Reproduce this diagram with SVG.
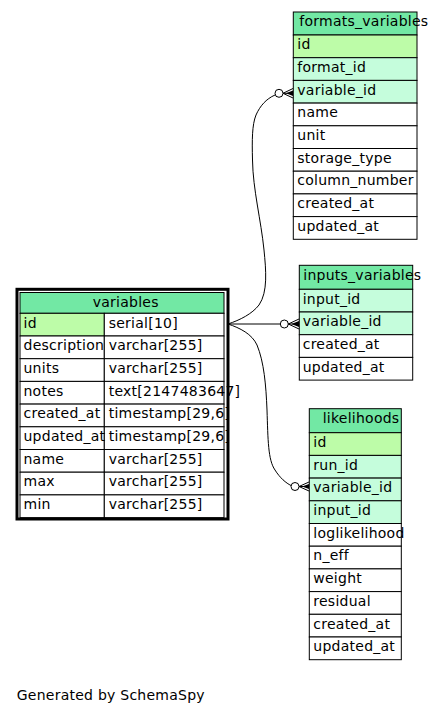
<svg xmlns="http://www.w3.org/2000/svg" width="433" height="717" viewBox="0 0 433 717">
<style>
text{font-family:"DejaVu Sans","Liberation Sans",sans-serif;font-size:14px;letter-spacing:0.25px;fill:#000}
.hd{fill:#72E8A4;stroke:#000;stroke-width:1}
.pk{fill:#BDFCA8;stroke:#000;stroke-width:1}
.fk{fill:#C5FDDC;stroke:#000;stroke-width:1}
.pl{fill:#fff;stroke:#000;stroke-width:1}
.edge{fill:none;stroke:#000;stroke-width:1}
.dot{fill:#fff;stroke:#000;stroke-width:1}
</style>
<rect width="433" height="717" fill="#fff"/>
<g id="connectors">
<path class="edge" d="M228,324 C240,320 252,314 259,305 C268,292 266,270 264,250 C261,220 253,190 252.5,160 C252,140 252,125 256,115 C260,106 266,99 275,95"/>
<circle class="dot" cx="279" cy="93.3" r="4"/>
<path class="edge" d="M293,88.5 L283,93.3 L293,98 M283,93.3 L293,93.3"/>
<path d="M293,90.5 L286,93.3 L293,96 Z" fill="#000"/>
<path class="edge" d="M228,324 L280.3,324"/>
<circle class="dot" cx="284.3" cy="324" r="4"/>
<path class="edge" d="M299,319 L288.3,324 L299,329 M288.3,324 L299,324"/>
<path d="M299,321 L291.3,324 L299,327 Z" fill="#000"/>
<path class="edge" d="M228,324 C240,328 252,334 257,345 C264,362 266,385 267,410 C268,440 268,460 275,470 C280,478 286,483 291,485.5"/>
<circle class="dot" cx="295" cy="486.5" r="4"/>
<path class="edge" d="M309,482 L299,486.5 L309,491 M299,486.5 L309,486.5"/>
<path d="M309,484 L302,486.5 L309,489 Z" fill="#000"/>
</g>
<g id="variables">
<rect x="17" y="289.3" width="211" height="229.7" fill="none" stroke="#000" stroke-width="3"/>
<rect class="hd" x="20" y="292.5" width="204" height="20.8"/>
<rect class="pk" x="20" y="313.3" width="84.3" height="22.7"/>
<rect class="pl" x="104.3" y="313.3" width="119.7" height="22.7"/>
<rect class="pl" x="20" y="336" width="84.3" height="22.7"/><rect class="pl" x="104.3" y="336" width="119.7" height="22.7"/>
<rect class="pl" x="20" y="358.7" width="84.3" height="22.7"/><rect class="pl" x="104.3" y="358.7" width="119.7" height="22.7"/>
<rect class="pl" x="20" y="381.4" width="84.3" height="22.7"/><rect class="pl" x="104.3" y="381.4" width="119.7" height="22.7"/>
<rect class="pl" x="20" y="404.1" width="84.3" height="22.7"/><rect class="pl" x="104.3" y="404.1" width="119.7" height="22.7"/>
<rect class="pl" x="20" y="426.8" width="84.3" height="22.7"/><rect class="pl" x="104.3" y="426.8" width="119.7" height="22.7"/>
<rect class="pl" x="20" y="449.5" width="84.3" height="22.7"/><rect class="pl" x="104.3" y="449.5" width="119.7" height="22.7"/>
<rect class="pl" x="20" y="472.2" width="84.3" height="22.7"/><rect class="pl" x="104.3" y="472.2" width="119.7" height="22.7"/>
<rect class="pl" x="20" y="494.9" width="84.3" height="22.7"/><rect class="pl" x="104.3" y="494.9" width="119.7" height="22.7"/>
<text x="92.7" y="306.5">variables</text>
<text x="23.5" y="327.5">id</text><text x="108.7" y="327.5">serial[10]</text>
<text x="23.5" y="350.2">description</text><text x="108.7" y="350.2">varchar[255]</text>
<text x="23.5" y="372.9">units</text><text x="108.7" y="372.9">varchar[255]</text>
<text x="23.5" y="395.6">notes</text><text x="108.7" y="395.6">text[2147483647]</text>
<text x="23.5" y="418.3">created_at</text><text x="108.7" y="418.3">timestamp[29,6]</text>
<text x="23.5" y="441">updated_at</text><text x="108.7" y="441">timestamp[29,6]</text>
<text x="23.5" y="463.7">name</text><text x="108.7" y="463.7">varchar[255]</text>
<text x="23.5" y="486.4">max</text><text x="108.7" y="486.4">varchar[255]</text>
<text x="23.5" y="509.1">min</text><text x="108.7" y="509.1">varchar[255]</text>
</g>
<g id="formats_variables">
<rect class="hd" x="293.3" y="12" width="123.7" height="23"/>
<rect class="pk" x="293.3" y="35" width="123.7" height="22.7"/>
<rect class="fk" x="293.3" y="57.7" width="123.7" height="22.7"/>
<rect class="fk" x="293.3" y="80.4" width="123.7" height="22.7"/>
<rect class="pl" x="293.3" y="103.1" width="123.7" height="22.7"/>
<rect class="pl" x="293.3" y="125.8" width="123.7" height="22.7"/>
<rect class="pl" x="293.3" y="148.5" width="123.7" height="22.7"/>
<rect class="pl" x="293.3" y="171.2" width="123.7" height="22.7"/>
<rect class="pl" x="293.3" y="193.9" width="123.7" height="22.7"/>
<rect class="pl" x="293.3" y="216.6" width="123.7" height="22.7"/>
<text x="299.3" y="25.7">formats_variables</text>
<text x="297.3" y="49.2">id</text>
<text x="297.3" y="71.9">format_id</text>
<text x="297.3" y="94.6">variable_id</text>
<text x="297.3" y="117.3">name</text>
<text x="297.3" y="140">unit</text>
<text x="297.3" y="162.7">storage_type</text>
<text x="297.3" y="185.4">column_number</text>
<text x="297.3" y="208.1">created_at</text>
<text x="297.3" y="230.8">updated_at</text>
</g>
<g id="inputs_variables">
<rect class="hd" x="299.3" y="265.3" width="113.4" height="24"/>
<rect class="fk" x="299.3" y="289.3" width="113.4" height="22.7"/>
<rect class="fk" x="299.3" y="312" width="113.4" height="22.7"/>
<rect class="pl" x="299.3" y="334.7" width="113.4" height="22.7"/>
<rect class="pl" x="299.3" y="357.4" width="113.4" height="22.7"/>
<text x="303.3" y="279.5">inputs_variables</text>
<text x="302.7" y="303.5">input_id</text>
<text x="302.7" y="326.2">variable_id</text>
<text x="302.7" y="348.9">created_at</text>
<text x="302.7" y="371.6">updated_at</text>
</g>
<g id="likelihoods">
<rect class="hd" x="309.3" y="408.7" width="92" height="24"/>
<rect class="pk" x="309.3" y="432.7" width="92" height="22.7"/>
<rect class="fk" x="309.3" y="455.4" width="92" height="22.7"/>
<rect class="fk" x="309.3" y="478.1" width="92" height="22.7"/>
<rect class="fk" x="309.3" y="500.8" width="92" height="22.7"/>
<rect class="pl" x="309.3" y="523.5" width="92" height="22.7"/>
<rect class="pl" x="309.3" y="546.2" width="92" height="22.7"/>
<rect class="pl" x="309.3" y="568.9" width="92" height="22.7"/>
<rect class="pl" x="309.3" y="591.6" width="92" height="22.7"/>
<rect class="pl" x="309.3" y="614.3" width="92" height="22.7"/>
<rect class="pl" x="309.3" y="637" width="92" height="22.7"/>
<text x="322.7" y="422.9">likelihoods</text>
<text x="313.3" y="446.9">id</text>
<text x="313.3" y="469.6">run_id</text>
<text x="313.3" y="492.3">variable_id</text>
<text x="313.3" y="515">input_id</text>
<text x="313.3" y="537.7">loglikelihood</text>
<text x="313.3" y="560.4">n_eff</text>
<text x="313.3" y="583.1">weight</text>
<text x="313.3" y="605.8">residual</text>
<text x="313.3" y="628.5">created_at</text>
<text x="313.3" y="651.2">updated_at</text>
</g>
<text x="16.7" y="700">Generated by SchemaSpy</text>
</svg>
